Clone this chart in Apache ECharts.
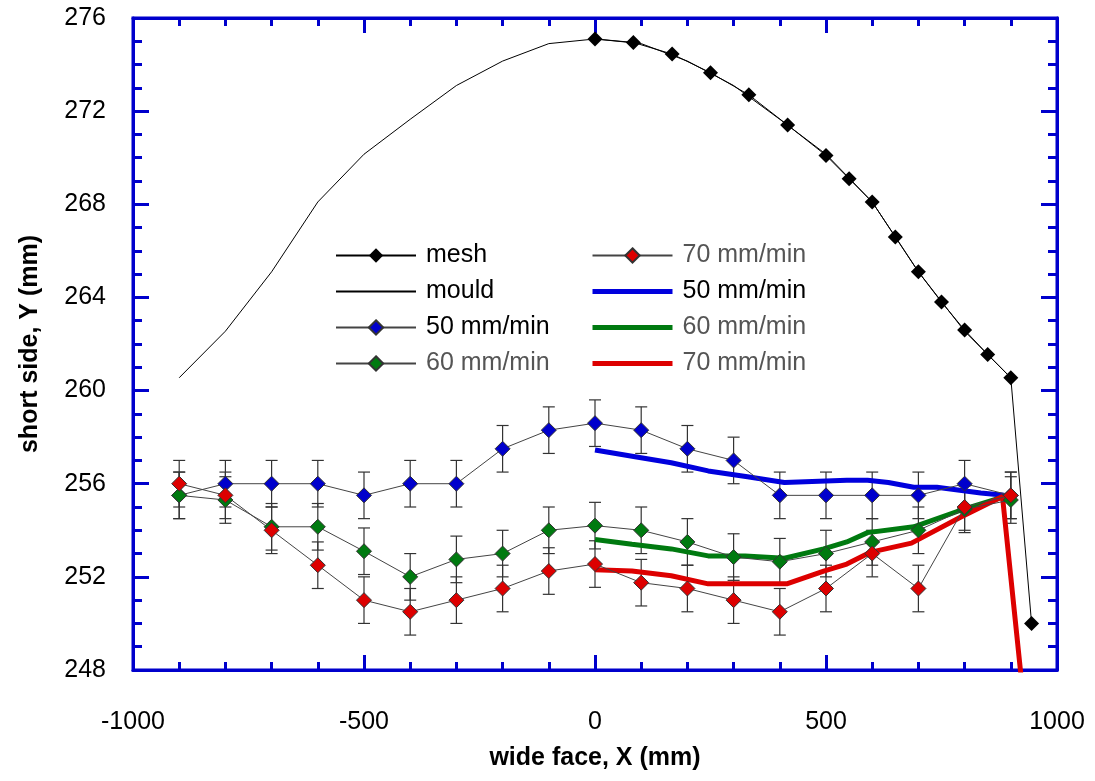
<!DOCTYPE html>
<html>
<head>
<meta charset="utf-8">
<script src="https://cdn.jsdelivr.net/npm/echarts@6/dist/echarts.min.js"></script>
<style>
  html, body { margin: 0; padding: 0; background: #fff; }
  #chart { width: 1095px; height: 781px; }
</style>
</head>
<body>
<div id="chart"></div>
<script>
// measured points (error bars +/- 1 mm)
var xPts = [-900, -800, -700, -600, -500, -400, -300, -200, -100, 0, 100, 200, 300, 400, 500, 600, 700, 800, 900];
var y50 = [255.5, 256, 256, 256, 255.5, 256, 256, 257.5, 258.3, 258.6, 258.3, 257.5, 257.0, 255.5, 255.5, 255.5, 255.5, 256.0, 255.5];
var y60 = [255.5, 255.3, 254.15, 254.15, 253.1, 252.0, 252.75, 253.0, 254.0, 254.2, 254.0, 253.5, 252.85, 252.65, 253.0, 253.5, 254.0, 254.9, 255.3];
var y70 = [256.0, 255.5, 254.0, 252.5, 251.0, 250.5, 251.0, 251.5, 252.25, 252.55, 251.75, 251.5, 251.0, 250.5, 251.5, 253.0, 251.5, 255.0, 255.5];
var errSize = 1;

// mesh
var meshX = [0, 83, 167, 250, 333, 417, 500, 550, 600, 650, 700, 750, 800, 850, 900, 945];
var meshY = [275.1, 274.95, 274.45, 273.65, 272.7, 271.4, 270.1, 269.1, 268.1, 266.6, 265.1, 263.8, 262.6, 261.55, 260.55, 250.0];

// mould
var mouldX = [-900, -800, -700, -600, -500, -400, -300, -200, -100, 0, 100, 200, 300, 400, 500, 600, 700, 800, 900];
var mouldY = [260.55, 262.55, 265.1, 268.1, 270.15, 271.65, 273.1, 274.15, 274.9, 275.1, 274.9, 274.15, 273.1, 271.65, 270.15, 268.1, 265.1, 262.55, 260.55];

// model curves
var m50X = [0, 90, 165, 245, 330, 410, 545, 590, 635, 690, 740, 835, 886];
var m50Y = [257.45, 257.15, 256.9, 256.55, 256.3, 256.05, 256.15, 256.15, 256.05, 255.85, 255.85, 255.6, 255.5];
var m60X = [0, 80, 165, 245, 325, 410, 495, 545, 590, 690, 790, 886];
var m60Y = [253.6, 253.4, 253.2, 252.9, 252.9, 252.8, 253.2, 253.5, 253.9, 254.15, 254.85, 255.45];
var m70X = [0, 80, 165, 245, 330, 415, 495, 545, 595, 685, 790, 882, 926];
var m70Y = [252.3, 252.25, 252.05, 251.7, 251.7, 251.7, 252.25, 252.55, 253.05, 253.45, 254.55, 255.45, 247];

var frameColor = '#0000cc';
var fontFam = '"Liberation Sans", Arial, sans-serif';

function pairs(xs, ys) {
  var out = [];
  for (var i = 0; i < xs.length; i++) out.push([xs[i], ys[i]]);
  return out;
}
function errData(xs, ys) {
  var out = [];
  for (var i = 0; i < xs.length; i++) out.push([xs[i], ys[i] - errSize, ys[i] + errSize]);
  return out;
}
function renderErr(params, api) {
  var x = api.value(0);
  var lo = api.coord([x, api.value(1)]);
  var hi = api.coord([x, api.value(2)]);
  var cap = 6;
  var st = { stroke: '#333', lineWidth: 1.2 };
  return {
    type: 'group',
    children: [
      { type: 'line', shape: { x1: lo[0], y1: lo[1], x2: hi[0], y2: hi[1] }, style: st },
      { type: 'line', shape: { x1: lo[0] - cap, y1: lo[1], x2: lo[0] + cap, y2: lo[1] }, style: st },
      { type: 'line', shape: { x1: hi[0] - cap, y1: hi[1], x2: hi[0] + cap, y2: hi[1] }, style: st }
    ]
  };
}

var labelMap = {
  'mesh': 'mesh', 'mould': 'mould',
  'p50': '50 mm/min', 'p60': '60 mm/min', 'p70': '70 mm/min',
  'm50': '50 mm/min', 'm60': '60 mm/min', 'm70': '70 mm/min'
};
var black = '#000', gray = '#555';
var noSym = { opacity: 0 };
var thick = { width: 5 };

function pointSeries(name, xs, ys, color) {
  return {
    name: name, type: 'line', data: pairs(xs, ys), z: 5,
    symbol: 'diamond', symbolSize: 15,
    lineStyle: { color: '#444', width: 1 },
    itemStyle: { color: color, borderColor: '#333', borderWidth: 1 }
  };
}
function modelSeries(name, xs, ys, color) {
  return {
    name: name, type: 'line', data: pairs(xs, ys), z: 3,
    symbol: 'none', showSymbol: false,
    lineStyle: { color: color, width: 5 },
    itemStyle: { color: color }
  };
}
function errSeries(xs, ys) {
  return { type: 'custom', renderItem: renderErr, data: errData(xs, ys), z: 2, silent: true };
}

var legendBase = {
  orient: 'vertical', itemWidth: 80, itemHeight: 18, itemGap: 11,
  textStyle: { fontFamily: fontFam, fontSize: 25, padding: [0, 0, 0, 5] },
  formatter: function (n) { return labelMap[n]; },
  selectedMode: false
};

function axisCommon(extra) {
  var base = {
    type: 'value',
    axisLine: { onZero: false, lineStyle: { color: frameColor, width: 3 } },
    axisTick: { inside: true, lineStyle: { color: frameColor, width: 3 } },
    minorTick: { show: true, lineStyle: { color: frameColor, width: 3 } },
    axisLabel: { fontFamily: fontFam, fontSize: 25, color: '#000', formatter: function (v) { return String(v); } },
    splitLine: { show: false }
  };
  return echarts.util.merge(base, extra, true);
}

var chart = echarts.init(document.getElementById('chart'));
chart.setOption({
  animation: false,
  backgroundColor: '#fff',
  grid: { left: 133, right: 38, top: 18, bottom: 111, show: true, borderColor: frameColor, borderWidth: 3 },
  legend: [
    echarts.util.extend({
      left: 330, top: 238,
      data: [
        { name: 'mesh', textStyle: { color: black } },
        { name: 'mould', textStyle: { color: black }, itemStyle: noSym },
        { name: 'p50', textStyle: { color: black } },
        { name: 'p60', textStyle: { color: gray } }
      ]
    }, legendBase),
    echarts.util.extend({
      left: 585, top: 238,
      data: [
        { name: 'p70', textStyle: { color: gray } },
        { name: 'm50', textStyle: { color: black }, itemStyle: noSym, lineStyle: thick },
        { name: 'm60', textStyle: { color: gray }, itemStyle: noSym, lineStyle: thick },
        { name: 'm70', textStyle: { color: gray }, itemStyle: noSym, lineStyle: thick }
      ]
    }, legendBase)
  ],
  xAxis: [
    axisCommon({
      min: -1000, max: 1000, interval: 500, position: 'bottom',
      name: 'wide face, X (mm)', nameLocation: 'middle', nameGap: 76,
      nameTextStyle: { fontFamily: fontFam, fontSize: 25, fontWeight: 'bold', color: '#000' },
      axisTick: { length: 15 },
      minorTick: { splitNumber: 5, length: 8 },
      axisLabel: { margin: 40 }
    }),
    axisCommon({
      min: -1000, max: 1000, interval: 500, position: 'top',
      axisTick: { length: 15 },
      minorTick: { splitNumber: 5, length: 8 },
      axisLabel: { show: false }
    })
  ],
  yAxis: [
    axisCommon({
      min: 248, max: 276, interval: 4, position: 'left',
      name: 'short side, Y (mm)', nameLocation: 'middle', nameGap: 90,
      nameTextStyle: { fontFamily: fontFam, fontSize: 25, fontWeight: 'bold', color: '#000' },
      axisTick: { length: 16 },
      minorTick: { splitNumber: 4, length: 9 },
      axisLabel: { margin: 27 }
    }),
    axisCommon({
      min: 248, max: 276, interval: 4, position: 'right',
      axisTick: { length: 16 },
      minorTick: { splitNumber: 4, length: 9 },
      axisLabel: { show: false }
    })
  ],
  series: [
    {
      name: 'mould', type: 'line', data: pairs(mouldX, mouldY), z: 2,
      symbol: 'none', lineStyle: { color: '#000', width: 1 }, itemStyle: { color: '#000' }
    },
    {
      name: 'mesh', type: 'line', data: pairs(meshX, meshY), z: 4,
      symbol: 'diamond', symbolSize: 15,
      lineStyle: { color: '#000', width: 1 }, itemStyle: { color: '#000' }
    },
    errSeries(xPts, y50),
    errSeries(xPts, y60),
    errSeries(xPts, y70),
    modelSeries('m50', m50X, m50Y, '#0000dd'),
    modelSeries('m60', m60X, m60Y, '#007a10'),
    modelSeries('m70', m70X, m70Y, '#dd0000'),
    pointSeries('p50', xPts, y50, '#0000cc'),
    pointSeries('p60', xPts, y60, '#007a10'),
    pointSeries('p70', xPts, y70, '#dd0000')
  ]
});
</script>
</body>
</html>
